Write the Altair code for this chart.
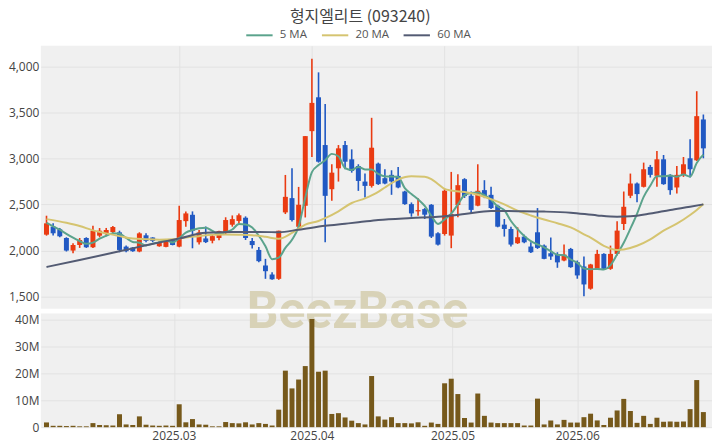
import altair as alt
import pandas as pd

# ---- data ----
opens = [2171, 2258, 2229, 2135, 1998, 2059, 2135, 2034, 2160, 2178,
         2200, 2196, 2041, 2031, 1988, 2164, 2140, 2045, 2038, 2113,
         2041, 2318, 2387, 2088, 2130, 2105, 2135, 2196, 2279, 2320,
         2355, 2102, 2005, 1836, 1738, 1691, 2413, 2568, 2257, 2485,
         3296, 3664, 3145, 2665, 2892, 3145, 2990, 2917, 2748, 2701,
         2943, 2785, 2821, 2810, 2640, 2503, 2424, 2449, 2496, 2186,
         2178, 2161, 2493, 2774, 2594, 2486, 2655, 2604, 2485, 2280,
         2233, 2078, 2150, 2042, 2197, 2052, 1968, 1960, 1890, 2016,
         1872, 1825, 1584, 1800, 1962, 1800, 1962, 2287, 2594, 2727,
         2691, 2907, 2810, 2990, 2821, 2684, 2821, 3001, 2979, 3423]
highs = [2377, 2294, 2244, 2143, 2077, 2135, 2143, 2268, 2243, 2244,
         2265, 2214, 2053, 2035, 2197, 2186, 2143, 2100, 2102, 2120,
         2485, 2424, 2424, 2221, 2260, 2178, 2214, 2360, 2380, 2400,
         2370, 2135, 2038, 1908, 1763, 2214, 2820, 2892, 2690, 3242,
         4083, 3935, 3592, 2936, 3145, 3188, 3098, 2936, 2835, 3441,
         2954, 2882, 2871, 2907, 2648, 2521, 2568, 2460, 2503, 2197,
         2666, 2853, 2828, 2785, 2640, 2936, 2763, 2691, 2496, 2341,
         2258, 2251, 2171, 2088, 2460, 2063, 2140, 1980, 2065, 2027,
         1890, 1933, 1854, 2006, 1970, 2052, 2316, 2640, 2835, 2738,
         2954, 2929, 3080, 3037, 2828, 2918, 3015, 3207, 3730, 3477]
lows = [2160, 2161, 2143, 1988, 1969, 2027, 2027, 2027, 2142, 2161,
        2190, 1980, 1980, 1985, 1980, 2089, 2089, 2040, 2034, 2055,
        2034, 2258, 2023, 2063, 2080, 2077, 2110, 2178, 2258, 2290,
        2113, 2020, 1872, 1691, 1680, 1680, 2395, 2315, 2250, 2358,
        3015, 2954, 2088, 2539, 2748, 2881, 2845, 2647, 2575, 2683,
        2712, 2720, 2604, 2676, 2496, 2366, 2377, 2341, 2135, 2052,
        2161, 2024, 2359, 2570, 2406, 2480, 2568, 2449, 2251, 2150,
        2042, 2070, 2078, 1973, 2016, 1905, 1897, 1811, 1883, 1811,
        1692, 1501, 1573, 1789, 1789, 1789, 1944, 2222, 2568, 2522,
        2684, 2792, 2691, 2713, 2604, 2619, 2799, 2792, 2972, 3001]
closes = [2294, 2186, 2153, 1998, 2059, 2113, 2034, 2214, 2214, 2222,
          2254, 2005, 1991, 1991, 2185, 2103, 2103, 2080, 2099, 2059,
          2330, 2402, 2214, 2196, 2090, 2155, 2210, 2330, 2340, 2382,
          2135, 2058, 1883, 1774, 1686, 2214, 2582, 2330, 2496, 3242,
          3603, 2964, 2593, 2845, 3109, 2964, 2864, 2755, 2701, 3116,
          2720, 2727, 2749, 2684, 2503, 2402, 2438, 2388, 2150, 2063,
          2648, 2395, 2709, 2590, 2440, 2648, 2583, 2460, 2258, 2233,
          2063, 2143, 2088, 1980, 2027, 1908, 1933, 1870, 1955, 1818,
          1728, 1630, 1847, 1962, 1800, 1962, 2215, 2474, 2727, 2612,
          2882, 2821, 2990, 2720, 2655, 2821, 2936, 2882, 3459, 3109]
volumes_m = [1.75, 0.5, 0.5, 0.4, 0.5, 0.3, 0.3, 1.5, 0.8, 0.7,
             0.6, 4.8, 1.0, 0.8, 4.0, 0.9, 0.6, 0.5, 0.6, 0.5,
             8.5, 1.8, 3.0, 1.0, 0.9, 0.3, 0.3, 1.9, 1.5, 1.4,
             1.8, 1.0, 1.5, 1.2, 0.6, 6.5, 21.0, 14.4, 17.7, 22.7,
             40.2, 20.6, 21.0, 4.9, 5.2, 3.6, 2.4, 1.5, 1.0, 19.0,
             4.0, 2.8, 3.7, 1.5, 1.5, 1.4, 1.8, 0.5, 1.7, 1.2,
             16.3, 18.0, 12.3, 3.4, 1.7, 12.5, 4.2, 1.7, 1.5, 1.5,
             1.5, 1.5, 0.6, 0.6, 10.6, 1.0, 2.5, 1.0, 2.7, 1.7,
             1.7, 3.7, 5.0, 2.5, 0.8, 3.5, 6.2, 10.5, 6.0, 1.6,
             4.2, 1.2, 3.5, 2.0, 2.1, 2.0, 2.1, 6.7, 17.5, 5.6]
ma5 = [2300, 2262, 2225, 2180, 2138, 2102, 2071, 2084, 2127, 2159,
       2187, 2181, 2136, 2092, 2084, 2054, 2073, 2090, 2112, 2087,
       2133, 2193, 2221, 2240, 2246, 2212, 2175, 2198, 2227, 2286,
       2281, 2249, 2159, 2046, 1905, 1921, 2027, 2116, 2260, 2573,
       2851, 2927, 2980, 3049, 3023, 2895, 2875, 2907, 2879, 2880,
       2831, 2804, 2803, 2799, 2677, 2613, 2555, 2483, 2376, 2288,
       2337, 2400, 2500, 2600, 2625, 2630, 2600, 2550, 2478, 2436,
       2319, 2231, 2157, 2101, 2065, 2034, 1992, 1953, 1948, 1901,
       1865, 1804, 1796, 1797, 1793, 1840, 1957, 2083, 2236, 2398,
       2582, 2703, 2806, 2805, 2814, 2801, 2824, 2803, 2951, 3041]
ma20_idx = [0, 3, 5, 7, 9, 11, 13, 15, 17, 19, 21, 23, 25, 27, 29, 31, 33, 35,
            37, 39, 41, 42, 44, 46, 48, 50, 51, 53, 55, 57, 58, 59, 60, 61, 63,
            65, 67, 69, 71, 73, 75, 77, 79, 81, 82, 84, 86, 87, 89, 91, 93, 95,
            97, 98, 99]
ma20_val = [2340, 2300, 2265, 2218, 2185, 2155, 2130, 2122, 2116, 2120, 2140,
            2155, 2170, 2172, 2170, 2165, 2148, 2126, 2190, 2280, 2320, 2350,
            2425, 2515, 2565, 2635, 2684, 2770, 2805, 2800, 2775, 2722, 2668,
            2650, 2635, 2605, 2557, 2500, 2432, 2380, 2335, 2295, 2250, 2175,
            2140, 2050, 2005, 2010, 2050, 2120, 2215, 2290, 2385, 2440, 2505]
ma60_idx = [0, 5, 11, 15, 20, 24, 28, 32, 35, 38, 42, 45, 47, 50, 55, 59, 63,
            67, 71, 75, 79, 83, 86, 88, 91, 94, 97, 99]
ma60_val = [1820, 1895, 1990, 2055, 2130, 2192, 2200, 2200, 2198, 2225, 2268,
            2290, 2305, 2330, 2352, 2366, 2395, 2428, 2426, 2422, 2410, 2380,
            2366, 2370, 2400, 2440, 2475, 2500]
ma_names = ["5 MA", "20 MA", "60 MA"]
ma_colors = ["#5ba38c", "#d5c470", "#535b73"]
price_grid_idx = [20, 40, 60, 80]
vol_tick_idx = [19.2, 40, 61.2, 80]
tick_labels = ["2025.03", "2025.04", "2025.05", "2025.06"]
price_ticks = [1500, 2000, 2500, 3000, 3500, 4000]
vol_ticks = [0, 10e6, 20e6, 30e6, 40e6]
title_text = "형지엘리트 (093240)"
watermark = "BeezBase"

# ---- tables ----
n = len(closes)
df = pd.DataFrame({
    "i": list(range(n)), "open": opens, "high": highs, "low": lows,
    "close": closes, "volume": [v * 1e6 for v in volumes_m],
})
ma_df = pd.concat([
    pd.DataFrame({"i": list(range(n)), "v": ma5, "s": ma_names[0]}),
    pd.DataFrame({"i": ma20_idx, "v": ma20_val, "s": ma_names[1]}),
    pd.DataFrame({"i": ma60_idx, "v": ma60_val, "s": ma_names[2]}),
], ignore_index=True)

RED = "#ea3b12"
BLUE = "#2159c3"
W = 674
label_expr = " : ".join(
    f"datum.value == {i} ? '{l}'" for i, l in zip(vol_tick_idx, tick_labels)
) + " : ''"

xs = alt.Scale(domain=[-0.1, 99.55], nice=False, zero=False)
ys = alt.Scale(domain=[1367, 4224], nice=False, zero=False)
vs = alt.Scale(domain=[0, 42.2e6], nice=False, zero=False)

x_price_axis = alt.Axis(values=price_grid_idx, labels=False, title=None, grid=True)
x_vol_axis = alt.Axis(values=vol_tick_idx, labelExpr=label_expr, title=None,
                      grid=True, labelPadding=3)
y_price_axis = alt.Axis(values=price_ticks, title=None, labelPadding=2,
                        labelExpr="format(datum.value, ',')")
y_vol_axis = alt.Axis(values=vol_ticks, title=None, labelPadding=2,
                      labelExpr="datum.value == 0 ? '0' : format(datum.value / 1e6, 'd') + 'M'")

cond_color = alt.condition("datum.close >= datum.open", alt.value(RED), alt.value(BLUE))
base = alt.Chart(df)

wm_df = pd.DataFrame({"t": [watermark]})
wm_top = alt.Chart(wm_df).mark_text(
    font="Roboto", fontSize=50, fontWeight="bold", color="#d8d2b7",
    align="center", baseline="alphabetic", clip=True,
).encode(text="t:N", x=alt.value(318), y=alt.value(282))
wm_bot = alt.Chart(wm_df).mark_text(
    font="Roboto", fontSize=50, fontWeight="bold", color="#d8d2b7",
    align="center", baseline="alphabetic", clip=True,
).encode(text="t:N", x=alt.value(318), y=alt.value(14))

wick = base.mark_rule(strokeWidth=1.6).encode(
    x=alt.X("i:Q", scale=xs, axis=x_price_axis),
    y=alt.Y("low:Q", scale=ys, axis=y_price_axis),
    y2="high:Q",
    color=cond_color,
)
body = base.mark_bar(size=5).encode(
    x="i:Q", y="open:Q", y2="close:Q", color=cond_color,
)
lines = alt.Chart(ma_df).mark_line(strokeWidth=2, interpolate="monotone").encode(
    x="i:Q", y="v:Q",
    color=alt.Color("s:N", scale=alt.Scale(domain=ma_names, range=ma_colors),
                    sort=ma_names,
                    legend=alt.Legend(orient="none", legendX=205, legendY=-25,
                                      title=None, direction="horizontal",
                                      symbolType="stroke", symbolStrokeWidth=2,
                                      symbolSize=700, labelFontSize=11.5,
                                      labelColor="#555", labelFont="Open Sans",
                                      columnPadding=10, labelOffset=6,
                                      padding=0)),
)
price = alt.layer(wm_top, wick, body, lines).properties(width=W, height=264)

vbars = base.mark_bar(size=5, color="#76591b").encode(
    x=alt.X("i:Q", scale=xs, axis=x_vol_axis),
    y=alt.Y("volume:Q", scale=vs, axis=y_vol_axis),
)
volume = alt.layer(wm_bot, vbars).properties(width=W, height=114)

chart = alt.vconcat(price, volume, spacing=4).properties(
    title=alt.Title(title_text, fontSize=16, font="Noto Sans CJK KR",
                    fontWeight="normal", color="#444", anchor="middle", offset=-4),
    padding={"left": 0, "top": 0, "right": 0, "bottom": 0},
).configure_view(fill="#f0f0f0", stroke=None).configure_axis(
    gridColor="#e2e2e2", domain=False, ticks=False, labelFont="Open Sans",
    labelFontSize=12, labelColor="#444",
)

chart.save("out.html", embed_options={"renderer": "svg", "actions": False})
